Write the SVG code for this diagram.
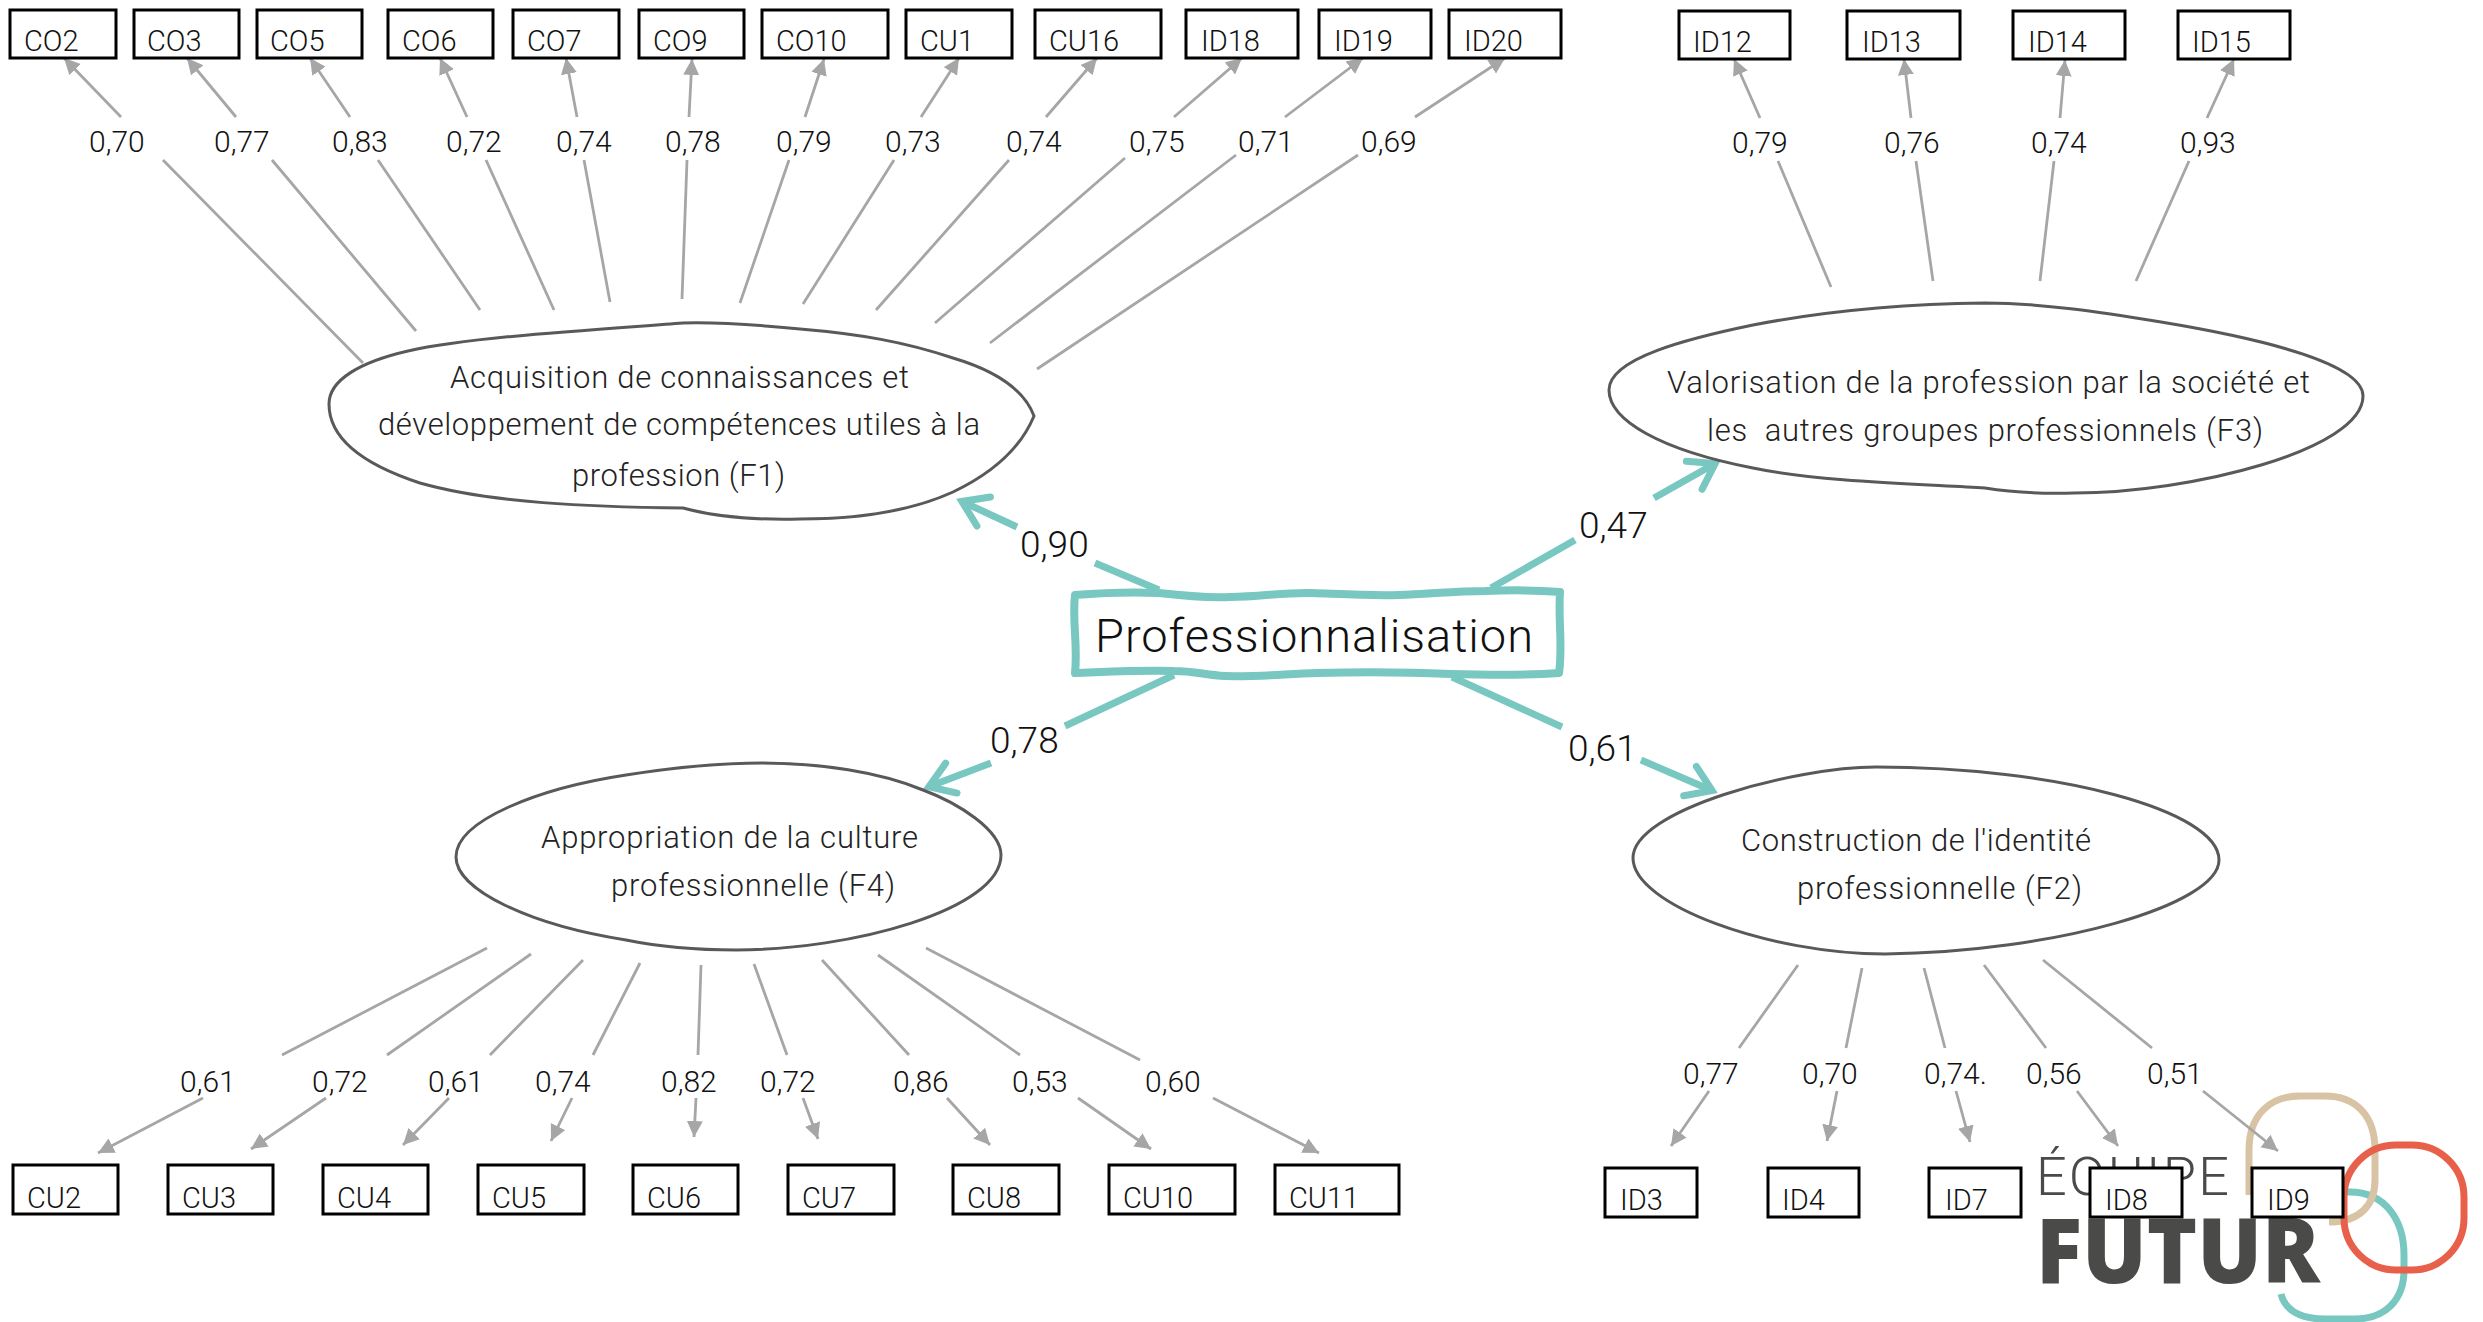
<svg xmlns="http://www.w3.org/2000/svg" width="2483" height="1322" viewBox="0 0 2483 1322">
<style>
text{font-family:Roboto,"Liberation Sans",sans-serif;font-weight:300;fill:#111;white-space:pre}
.b{fill:#fff;stroke:#000;stroke-width:3}
.t{font-size:29px}
.l{font-size:30px}
.e{fill:#fff;stroke:#595959;stroke-width:3}
.f{font-size:31px;fill:#222}
.g{fill:none;stroke:#a6a6a6;stroke-width:2.8;marker-end:url(#ga)}
.c{fill:none;stroke:#78c7c1;stroke-width:7;marker-end:url(#ta)}
.m{font-size:37px}
</style>
<defs>
<marker id="ga" markerUnits="userSpaceOnUse" markerWidth="18" markerHeight="18" refX="16" refY="8" orient="auto"><path d="M0 0L16 8L0 16Z" fill="#a6a6a6"/></marker>
<marker id="ta" markerUnits="userSpaceOnUse" markerWidth="44" markerHeight="44" refX="33" refY="22" orient="auto"><path d="M8 6L32 22L8 38" fill="none" stroke="#78c7c1" stroke-width="7" stroke-linecap="round"/></marker>
</defs>
<g id="logo">
<text x="2036" y="1195" style="font-size:54px;fill:#4a4a49" textLength="193">ÉQUIPE</text>
<text x="2036" y="1283" style="font-family:'Open Sans','Liberation Sans',sans-serif;font-weight:800;font-size:91px;fill:#4a4a49" textLength="284" lengthAdjust="spacingAndGlyphs">FUTUR</text>
<path d="M2310 1192H2350C2385 1192 2404 1220 2404 1255V1270C2404 1300 2385 1319 2355 1319H2325C2300 1319 2285 1310 2281 1294" fill="none" stroke="#78c7c1" stroke-width="7"/>
<path d="M2249 1195V1150C2249 1115 2270 1096 2300 1096H2325C2355 1096 2375 1115 2375 1150V1180C2375 1205 2360 1222 2329 1222" fill="none" stroke="#d9c3a5" stroke-width="7"/>
<rect x="2344" y="1145" width="120" height="125" rx="52" fill="none" stroke="#e8604a" stroke-width="7"/>
</g>
<g id="connectors">
<path class="g" d="M363 363L163 160M121 117L64 58"/>
<path class="g" d="M416 331L272 160M236 117L187 58"/>
<path class="g" d="M480 310L378 160M350 117L310 58"/>
<path class="g" d="M554 310L486 160M467 117L440 58"/>
<path class="g" d="M610 302L584 160M577 117L566 58"/>
<path class="g" d="M682 299L687 160M689 117L692 59"/>
<path class="g" d="M740 303L789 160M805 117L824 59"/>
<path class="g" d="M803 304L894 160M921 117L959 58"/>
<path class="g" d="M876 310L1009 160M1046 117L1097 58"/>
<path class="g" d="M935 323L1125 158M1174 117L1242 58"/>
<path class="g" d="M990 343L1236 155M1285 117L1363 58"/>
<path class="g" d="M1037 369L1358 155M1415 117L1505 58"/>
<path class="g" d="M1831 287L1778 161M1760 118L1734 59"/>
<path class="g" d="M1933 281L1916 161M1911 118L1904 59"/>
<path class="g" d="M2040 281L2054 161M2060 118L2065 60"/>
<path class="g" d="M2136 281L2189 161M2207 118L2234 59"/>
<path class="g" d="M487 948L282 1055M203 1098L98 1153"/>
<path class="g" d="M531 954L387 1055M326 1098L251 1149"/>
<path class="g" d="M583 960L490 1055M449 1098L403 1145"/>
<path class="g" d="M640 963L593 1055M572 1098L551 1141"/>
<path class="g" d="M701 965L698 1055M696 1098L694 1137"/>
<path class="g" d="M754 964L787 1055M803 1098L818 1139"/>
<path class="g" d="M822 960L909 1055M947 1098L990 1145"/>
<path class="g" d="M878 955L1020 1055M1078 1098L1151 1149"/>
<path class="g" d="M926 948L1140 1060M1213 1098L1319 1153"/>
<path class="g" d="M1798 965L1739 1048M1709 1091L1671 1146"/>
<path class="g" d="M1862 968L1846 1048M1837 1091L1827 1141"/>
<path class="g" d="M1924 968L1945 1048M1956 1091L1970 1142"/>
<path class="g" d="M1984 965L2046 1048M2077 1091L2118 1146"/>
<path class="g" d="M2043 960L2152 1048M2203 1091L2278 1151"/>
<path class="c" d="M1159 590L1095 563M1017 527L961 501"/>
<path class="c" d="M1491 588L1575 540M1654 498L1716 463"/>
<path class="c" d="M1174 675L1065 726M991 763L928 787"/>
<path class="c" d="M1452 677L1562 727M1641 760L1713 791"/>
</g>
<g id="F1"><path class="e" d="M683 323C590 330 470 337 408 351C360 362 329 380 329 404C329 440 365 465 420 483C490 503 590 507 683 508C720 518 760 520 800 519C870 519 920 507 953 492C995 472 1022 445 1034 416C1025 392 1000 372 953 358C905 342 860 334 800 329C760 325 720 322 683 323Z"/>
<text class="f" x="450" y="388" textLength="459">Acquisition de connaissances et</text>
<text class="f" x="378" y="435" textLength="602">développement de compétences utiles à la</text>
<text class="f" x="572" y="486" textLength="213">profession (F1)</text></g>
<g id="F3"><path class="e" d="M1985 303C1900 304 1820 312 1753 325C1690 338 1609 358 1609 390C1609 420 1660 450 1753 468C1820 482 1920 484 1985 488C2010 492 2040 494 2074 493C2190 493 2363 450 2363 396C2363 365 2270 340 2161 322C2100 312 2040 303 1985 303Z"/>
<text class="f" x="1667" y="393" textLength="643">Valorisation de la profession par la société et</text>
<text class="f" x="1707" y="441" textLength="556">les  autres groupes professionnels (F3)</text></g>
<g id="F4"><path class="e" d="M762 763C720 763 670 768 626 775C540 788 456 820 456 857C456 890 530 925 626 940C665 948 700 950 736 950C850 950 1001 910 1001 855C1001 830 958 803 923 790C880 772 820 763 762 763Z"/>
<text class="f" x="541" y="848" textLength="377">Appropriation de la culture</text>
<text class="f" x="611" y="896" textLength="284">professionnelle (F4)</text></g>
<g id="F2"><path class="e" d="M1876 767C1795 767 1633 810 1633 858C1633 905 1770 954 1885 954C2055 952 2219 905 2219 860C2219 810 2055 767 1876 767Z"/>
<text class="f" x="1741" y="851" textLength="350">Construction de l'identité</text>
<text class="f" x="1797" y="899" textLength="285">professionnelle (F2)</text></g>
<g id="Professionnalisation"><path d="M1075 595C1100 593 1135 592 1159 593C1185 596 1205 598 1230 597C1260 597 1285 592 1312 593C1340 594 1370 596 1399 595C1430 594 1455 591 1485 591C1510 590 1535 590 1560 592C1558 620 1563 645 1559 673C1520 676 1485 675 1450 674C1405 672 1360 672 1317 673C1285 674 1255 677 1225 676C1205 675 1195 671 1174 671C1140 670 1105 672 1075 673C1078 645 1072 620 1075 595Z" fill="#fff" stroke="#78c7c1" stroke-width="8" stroke-linejoin="round"/>
<text x="1095" y="652" style="font-size:47px" textLength="438">Professionnalisation</text></g>
<g id="path-labels">
<text class="m" x="1020" y="557">0,90</text><text class="m" x="1579" y="538">0,47</text><text class="m" x="990" y="753">0,78</text><text class="m" x="1568" y="761">0,61</text>
</g>
<g id="loadings">
<text class="l" x="89" y="152">0,70</text><text class="l" x="214" y="152">0,77</text><text class="l" x="332" y="152">0,83</text><text class="l" x="446" y="152">0,72</text><text class="l" x="556" y="152">0,74</text><text class="l" x="665" y="152">0,78</text><text class="l" x="776" y="152">0,79</text><text class="l" x="885" y="152">0,73</text><text class="l" x="1006" y="152">0,74</text><text class="l" x="1129" y="152">0,75</text><text class="l" x="1238" y="152">0,71</text><text class="l" x="1361" y="152">0,69</text>
<text class="l" x="1732" y="153">0,79</text><text class="l" x="1884" y="153">0,76</text><text class="l" x="2031" y="153">0,74</text><text class="l" x="2180" y="153">0,93</text>
<text class="l" x="180" y="1092">0,61</text><text class="l" x="312" y="1092">0,72</text><text class="l" x="428" y="1092">0,61</text><text class="l" x="535" y="1092">0,74</text><text class="l" x="661" y="1092">0,82</text><text class="l" x="760" y="1092">0,72</text><text class="l" x="893" y="1092">0,86</text><text class="l" x="1012" y="1092">0,53</text><text class="l" x="1145" y="1092">0,60</text>
<text class="l" x="1683" y="1084">0,77</text><text class="l" x="1802" y="1084">0,70</text><text class="l" x="1924" y="1084">0,74.</text><text class="l" x="2026" y="1084">0,56</text><text class="l" x="2147" y="1084">0,51</text>
</g>
<g id="CO2"><rect class="b" x="10" y="10" width="106" height="48"/><text class="t" x="24" y="51">CO2</text></g>
<g id="CO3"><rect class="b" x="134" y="10" width="105" height="48"/><text class="t" x="147" y="51">CO3</text></g>
<g id="CO5"><rect class="b" x="257" y="10" width="105" height="48"/><text class="t" x="270" y="51">CO5</text></g>
<g id="CO6"><rect class="b" x="388" y="10" width="105" height="48"/><text class="t" x="402" y="51">CO6</text></g>
<g id="CO7"><rect class="b" x="513" y="10" width="106" height="48"/><text class="t" x="527" y="51">CO7</text></g>
<g id="CO9"><rect class="b" x="639" y="10" width="105" height="48"/><text class="t" x="653" y="51">CO9</text></g>
<g id="CO10"><rect class="b" x="762" y="10" width="126" height="48"/><text class="t" x="776" y="51">CO10</text></g>
<g id="CU1"><rect class="b" x="906" y="10" width="106" height="48"/><text class="t" x="920" y="51">CU1</text></g>
<g id="CU16"><rect class="b" x="1035" y="10" width="126" height="48"/><text class="t" x="1049" y="51">CU16</text></g>
<g id="ID18"><rect class="b" x="1186" y="10" width="112" height="48"/><text class="t" x="1201" y="51">ID18</text></g>
<g id="ID19"><rect class="b" x="1319" y="10" width="112" height="48"/><text class="t" x="1334" y="51">ID19</text></g>
<g id="ID20"><rect class="b" x="1449" y="10" width="112" height="48"/><text class="t" x="1464" y="51">ID20</text></g>
<g id="ID12"><rect class="b" x="1679" y="11" width="111" height="48"/><text class="t" x="1693" y="52">ID12</text></g>
<g id="ID13"><rect class="b" x="1847" y="11" width="113" height="48"/><text class="t" x="1862" y="52">ID13</text></g>
<g id="ID14"><rect class="b" x="2013" y="11" width="112" height="48"/><text class="t" x="2028" y="52">ID14</text></g>
<g id="ID15"><rect class="b" x="2178" y="11" width="112" height="48"/><text class="t" x="2192" y="52">ID15</text></g>
<g id="CU2"><rect class="b" x="13" y="1165" width="105" height="49"/><text class="t" x="27" y="1208">CU2</text></g>
<g id="CU3"><rect class="b" x="168" y="1165" width="105" height="49"/><text class="t" x="182" y="1208">CU3</text></g>
<g id="CU4"><rect class="b" x="323" y="1165" width="105" height="49"/><text class="t" x="337" y="1208">CU4</text></g>
<g id="CU5"><rect class="b" x="478" y="1165" width="106" height="49"/><text class="t" x="492" y="1208">CU5</text></g>
<g id="CU6"><rect class="b" x="633" y="1165" width="105" height="49"/><text class="t" x="647" y="1208">CU6</text></g>
<g id="CU7"><rect class="b" x="788" y="1165" width="106" height="49"/><text class="t" x="802" y="1208">CU7</text></g>
<g id="CU8"><rect class="b" x="953" y="1165" width="106" height="49"/><text class="t" x="967" y="1208">CU8</text></g>
<g id="CU10"><rect class="b" x="1109" y="1165" width="126" height="49"/><text class="t" x="1123" y="1208">CU10</text></g>
<g id="CU11"><rect class="b" x="1275" y="1165" width="124" height="49"/><text class="t" x="1289" y="1208">CU11</text></g>
<g id="ID3"><rect class="b" x="1605" y="1168" width="92" height="49"/><text class="t" x="1620" y="1210">ID3</text></g>
<g id="ID4"><rect class="b" x="1768" y="1168" width="91" height="49"/><text class="t" x="1782" y="1210">ID4</text></g>
<g id="ID7"><rect class="b" x="1929" y="1168" width="92" height="49"/><text class="t" x="1945" y="1210">ID7</text></g>
<g id="ID8"><rect class="b" x="2090" y="1168" width="92" height="49"/><text class="t" x="2105" y="1210">ID8</text></g>
<g id="ID9"><rect class="b" x="2252" y="1168" width="91" height="49"/><text class="t" x="2267" y="1210">ID9</text></g>
</svg>
